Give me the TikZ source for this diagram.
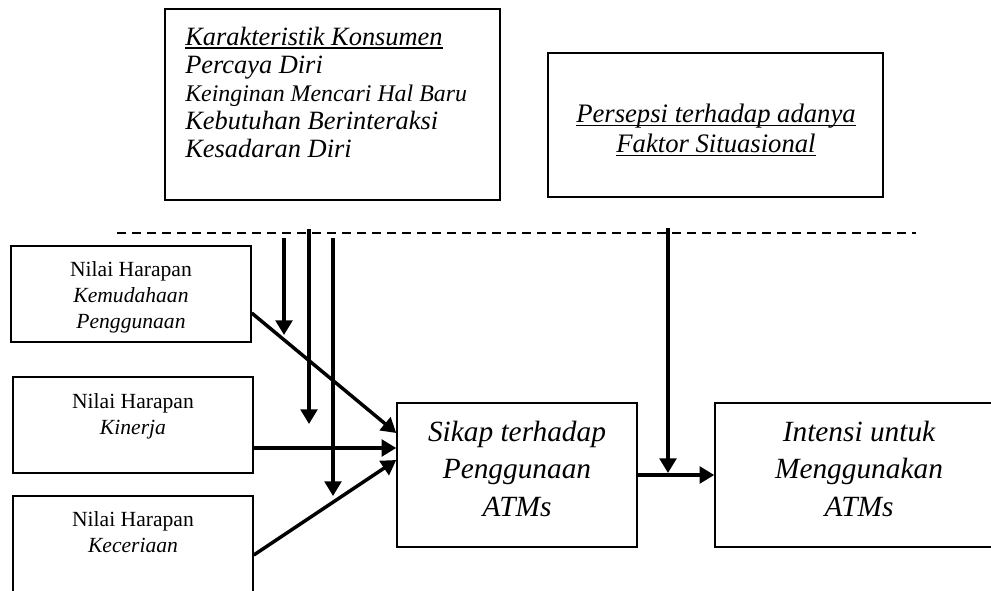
\documentclass[tikz,border=0pt]{standalone}
\usepackage{fontspec}
\setmainfont{Liberation Serif}
\usetikzlibrary{arrows.meta}
\newsavebox\ulbox
\newcommand\uln[1]{\sbox\ulbox{#1}\rlap{\rule[-2.4pt]{\wd\ulbox}{1.1pt}}\usebox\ulbox}

\begin{document}
\begin{tikzpicture}[x=.75pt,y=-.75pt,
  box/.style={draw,line width=1.1pt,inner sep=0pt},
  txt/.style={inner sep=0pt,align=center},
  link/.style={line width=2.6pt,-{Triangle[length=11pt,width=12.5pt]}}]
\useasboundingbox (0,0) rectangle (991,590);
\clip (0,0) rectangle (991,590);
% boxes
\node[box,minimum width=251.25pt,minimum height=143.25pt] (kons) at (332.5,104.5) {};
\node[box,minimum width=251.25pt,minimum height=108pt] (situasi) at (715.5,125) {};
\node[box,minimum width=180pt,minimum height=72pt] (mudah) at (131,294) {};
\node[box,minimum width=180pt,minimum height=72pt] (kinerja) at (133,425) {};
\node[box,minimum width=180pt,minimum height=72pt] (ceria) at (133,544) {};
\node[box,minimum width=180pt,minimum height=108pt] (sikap) at (517,475) {};
\node[box,minimum width=216pt,minimum height=108pt] (intensi) at (859,475) {};
% texts
\node[txt,anchor=north west,align=left,font=\fontsize{19.8}{21}\selectfont\itshape] (kons-t) at (185,27)
  {\uln{Karakteristik Konsumen}\\Percaya Diri\\{\fontsize{17.9}{21}\selectfont Keinginan Mencari Hal Baru}\\Kebutuhan Berinteraksi\\Kesadaran Diri};
\node[txt,anchor=north,font=\fontsize{20}{22.5}\selectfont\itshape] (situasi-t) at (716,104)
  {\uln{Persepsi terhadap adanya}\\\uln{Faktor Situasional}};
\node[txt,anchor=north,font=\fontsize{16.2}{19.5}\selectfont] (mudah-t) at (131,261)
  {Nilai Harapan\\\textit{Kemudahaan}\\\textit{Penggunaan}};
\node[txt,anchor=north,font=\fontsize{16.2}{19.5}\selectfont] (kinerja-t) at (133,393)
  {Nilai Harapan\\\textit{Kinerja}};
\node[txt,anchor=north,font=\fontsize{16.2}{19.5}\selectfont] (ceria-t) at (133,511)
  {Nilai Harapan\\\textit{Keceriaan}};
\node[txt,anchor=north,font=\fontsize{22}{28}\selectfont\itshape] (sikap-t) at (517,421)
  {Sikap terhadap\\Penggunaan\\ATMs};
\node[txt,anchor=north,font=\fontsize{22}{28}\selectfont\itshape] (intensi-t) at (859,421)
  {Intensi untuk\\Menggunakan\\ATMs};
% dashed line
\coordinate (dl) at (117,233);
\coordinate (dr) at (916,233);
\draw[line width=1.5pt,dash pattern=on 6.75pt off 4.5pt] (dl) -- (dr);
% moderating arrows
\foreach \x/\ya/\yb [count=\i] in {284/238/335,309/229/424,333/238/496}{
  \coordinate (m\i) at (\x,\ya);
  \coordinate (n\i) at (\x,\yb);
  \draw[link] (m\i) -- (n\i);
}
\draw[link] ([yshift=-14.25pt]mudah.east) -- ([yshift=31.5pt]sikap.west);
\draw[link] ([yshift=-17.25pt]kinerja.east) -- ([yshift=20.25pt]sikap.west);
\draw[link] ([yshift=-8.25pt]ceria.east) -- ([yshift=11.25pt]sikap.west);
\draw[link] (sikap.east) -- (intensi.west);
\coordinate (sit) at (668,228);
\draw[link] (sit) -- ([yshift=1.5pt]sit |- sikap.east);
\end{tikzpicture}
\end{document}
